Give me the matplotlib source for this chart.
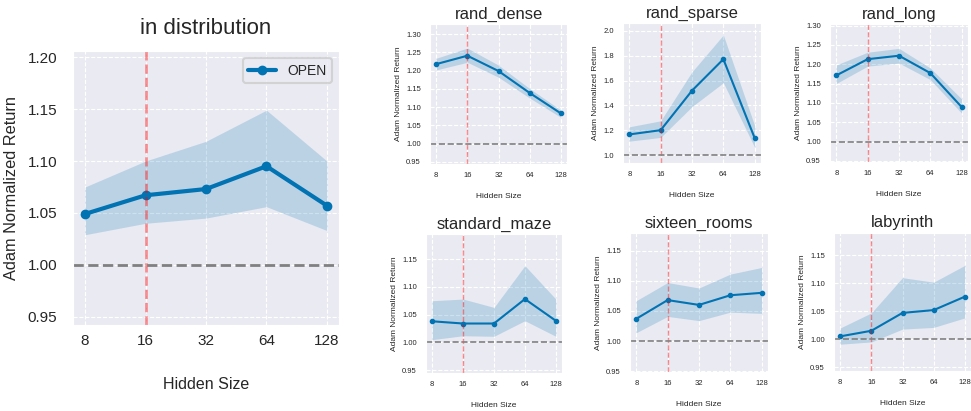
import numpy as np
import matplotlib
matplotlib.use("Agg")
import matplotlib.pyplot as plt
import seaborn as sns

sns.set_style("darkgrid", {"grid.linestyle": "--"})
plt.rcParams["font.family"] = ["Liberation Sans", "DejaVu Sans"]

hidden_sizes = ["8", "16", "32", "64", "128"]
best_idx = 1  # hidden size 16

# in distribution (aggregate)
indist_mean = [1.049, 1.067, 1.073, 1.095, 1.057]
indist_low = [1.029, 1.040, 1.045, 1.056, 1.033]
indist_high = [1.075, 1.100, 1.119, 1.149, 1.100]

# per-environment results
env_names = ["rand_dense", "rand_sparse", "rand_long",
             "standard_maze", "sixteen_rooms", "labyrinth"]
env_mean = {
    "rand_dense": [1.218, 1.241, 1.199, 1.139, 1.083],
    "rand_sparse": [1.168, 1.202, 1.519, 1.771, 1.138],
    "rand_long": [1.171, 1.213, 1.222, 1.177, 1.089],
    "standard_maze": [1.038, 1.034, 1.034, 1.078, 1.039],
    "sixteen_rooms": [1.037, 1.068, 1.060, 1.076, 1.080],
    "labyrinth": [1.005, 1.015, 1.047, 1.052, 1.076],
}
env_low = {
    "rand_dense": [1.202, 1.223, 1.182, 1.125, 1.072],
    "rand_sparse": [1.114, 1.144, 1.391, 1.582, 1.064],
    "rand_long": [1.150, 1.195, 1.203, 1.160, 1.073],
    "standard_maze": [1.005, 1.012, 1.011, 1.039, 1.011],
    "sixteen_rooms": [1.014, 1.041, 1.034, 1.048, 1.046],
    "labyrinth": [0.991, 0.995, 1.018, 1.021, 1.038],
}
env_high = {
    "rand_dense": [1.234, 1.262, 1.215, 1.151, 1.092],
    "rand_sparse": [1.229, 1.277, 1.670, 1.965, 1.237],
    "rand_long": [1.198, 1.231, 1.241, 1.190, 1.110],
    "standard_maze": [1.075, 1.078, 1.063, 1.138, 1.078],
    "sixteen_rooms": [1.067, 1.097, 1.088, 1.111, 1.122],
    "labyrinth": [1.020, 1.047, 1.110, 1.102, 1.132],
}
env_ylim = {
    "rand_dense": (0.944, 1.328),
    "rand_sparse": (0.939, 2.061),
    "rand_long": (0.947, 1.304),
    "standard_maze": (0.945, 1.195),
    "sixteen_rooms": (0.949, 1.179),
    "labyrinth": (0.943, 1.190),
}
env_yticks = {
    "rand_dense": np.arange(0.95, 1.31, 0.05),
    "rand_sparse": np.arange(1.0, 2.01, 0.2),
    "rand_long": np.arange(0.95, 1.31, 0.05),
    "standard_maze": np.arange(0.95, 1.16, 0.05),
    "sixteen_rooms": np.arange(0.95, 1.16, 0.05),
    "labyrinth": np.arange(0.95, 1.16, 0.05),
}
# axes boxes in pixels: left, top, right, bottom
env_box = {
    "rand_dense": (430, 24, 567, 164),
    "rand_sparse": (623, 23, 761, 163),
    "rand_long": (830, 24, 968, 162),
    "standard_maze": (426, 234, 562, 373),
    "sixteen_rooms": (630, 233, 768, 372),
    "labyrinth": (834, 233, 971, 371),
}

W, H = 971, 411
blue = "#0173B2"
fig = plt.figure(figsize=(W / 100, H / 100), dpi=100)


def px_axes(l, t, r, b):
    return fig.add_axes([l / W, 1 - b / H, (r - l) / W, (b - t) / H])


x = np.arange(len(hidden_sizes))

# big panel
ax = px_axes(73, 51, 339, 325)
ax.fill_between(x, indist_low, indist_high, color=blue, alpha=0.2, lw=0)
ax.plot(x, indist_mean, "-o", color=blue, lw=3, ms=6, label="OPEN")
ax.axvline(best_idx, color="red", ls="--", lw=1.8, alpha=0.45)
ax.axhline(1.0, color="gray", ls="--", lw=2)
ax.set_xlim(-0.2, 4.2)
ax.set_ylim(0.942, 1.206)
ax.set_xticks(x)
ax.set_xticklabels(hidden_sizes)
ax.set_yticks(np.arange(0.95, 1.21, 0.05))
ax.tick_params(axis="y", labelsize=11, pad=8)
ax.tick_params(axis="x", labelsize=11, pad=3)
ax.set_title("in distribution", fontsize=16, pad=12)
ax.set_xlabel("Hidden Size", fontsize=11.5, labelpad=21)
ax.set_ylabel("Adam Normalized Return", fontsize=11.8, labelpad=6)
leg = ax.legend(loc="upper right", fontsize=10, frameon=True)
leg.get_frame().set_edgecolor("#cccccc")
leg.get_frame().set_linewidth(1.5)

for name in env_names:
    a = px_axes(*env_box[name])
    a.fill_between(x, env_low[name], env_high[name], color=blue, alpha=0.2, lw=0)
    a.plot(x, env_mean[name], "-o", color=blue, lw=1.5, ms=3)
    a.axvline(best_idx, color="red", ls="--", lw=1, alpha=0.45)
    a.axhline(1.0, color="gray", ls="--", lw=1.2)
    a.set_xlim(-0.2, 4.2)
    a.set_ylim(*env_ylim[name])
    a.set_xticks(x)
    a.set_xticklabels(hidden_sizes)
    a.set_yticks(env_yticks[name])
    a.grid(True, lw=0.8)
    a.tick_params(axis="y", labelsize=5.5, pad=3)
    a.tick_params(axis="x", labelsize=5.5, pad=2)
    a.set_title(name, fontsize=12, pad=4)
    a.set_xlabel("Hidden Size", fontsize=6, labelpad=10)
    a.set_ylabel("Adam Normalized Return", fontsize=6, labelpad=3)

fig.savefig("out.png", dpi=100)
